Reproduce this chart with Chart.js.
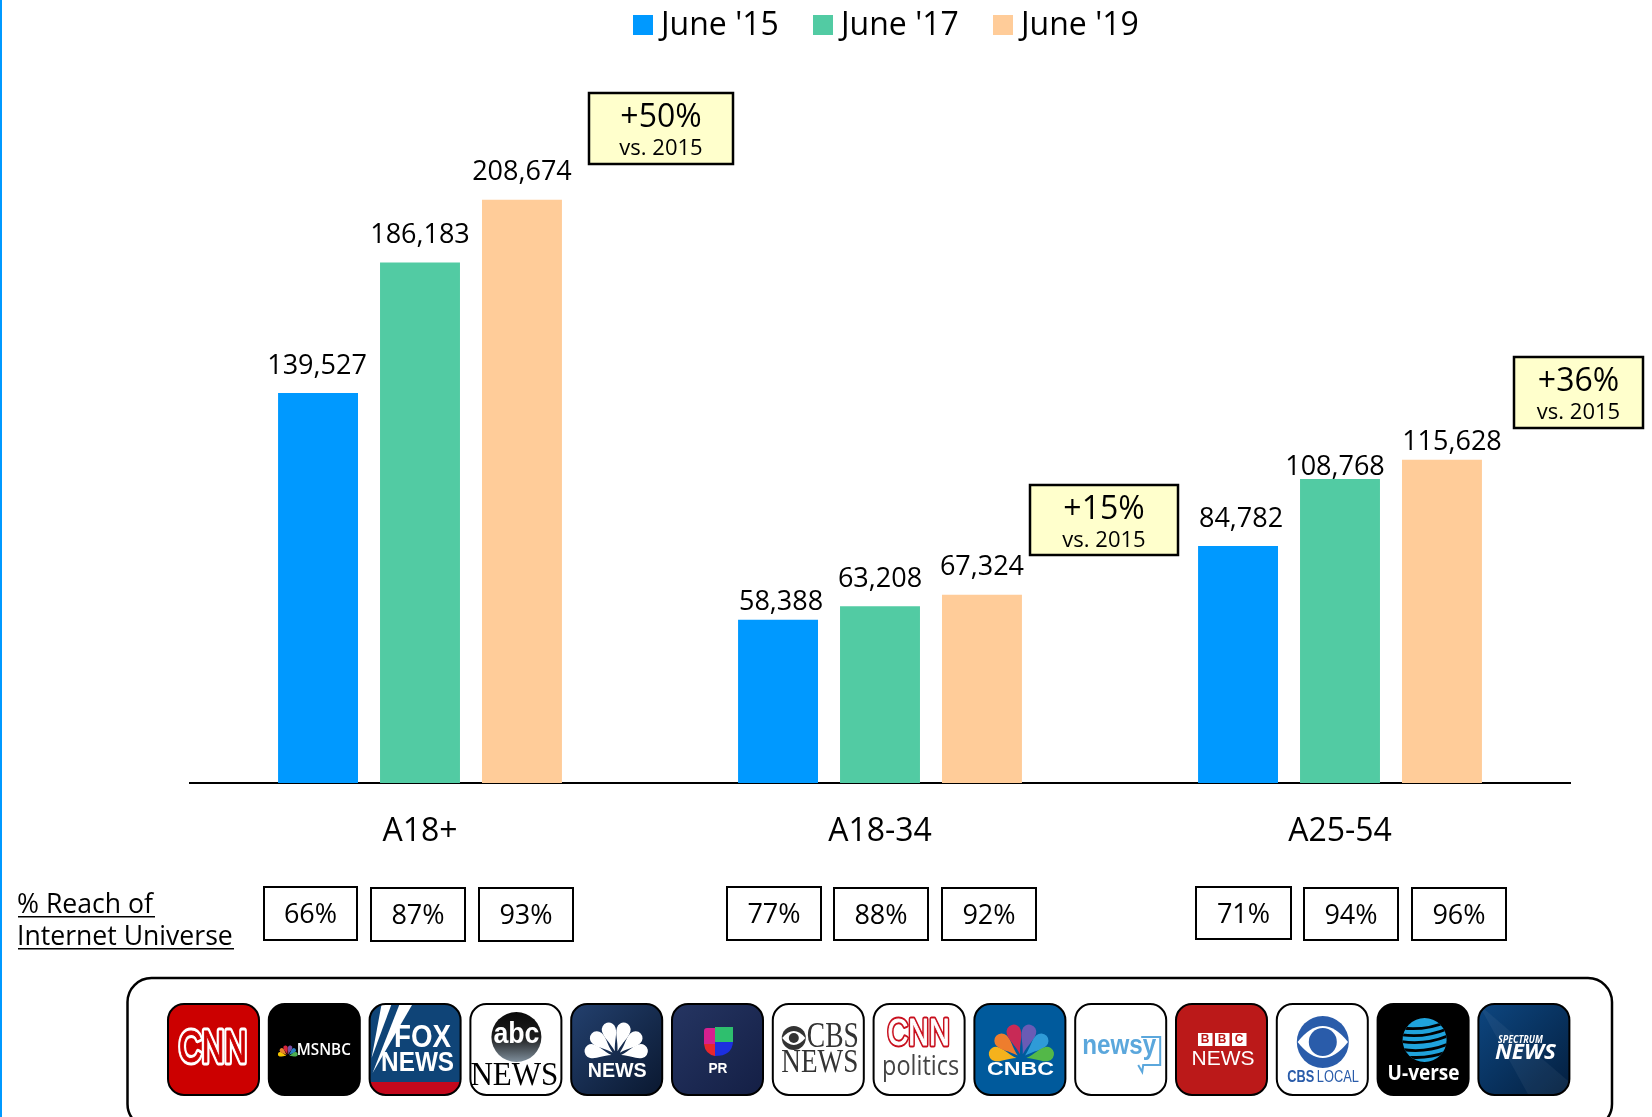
<!DOCTYPE html>
<html>
<head>
<meta charset="utf-8">
<title>Digital news reach</title>
<style>
html, body { margin: 0; padding: 0; background: #fff; overflow: hidden; }
canvas { display: block; }
</style>
<script src="https://cdn.jsdelivr.net/npm/chart.js@4"></script>
</head>
<body>
<canvas id="chart" width="1652" height="1117"></canvas>
<script>
const categories = ["A18+", "A18-34", "A25-54"];
const seriesNames = ["June '15", "June '17", "June '19"];
const june15 = [139527, 58388, 84782];
const june17 = [186183, 63208, 108768];
const june19 = [208674, 67324, 115628];
const reachLabels = ["66%", "87%", "93%", "77%", "88%", "92%", "71%", "94%", "96%"];
const changeLabels = ["+50%", "+15%", "+36%"];

const colors = ["#0099ff", "#52cba3", "#ffcc99"];
const FONT = '"Open Sans", sans-serif';
const SANS = '"Liberation Sans", sans-serif';
const SERIF = '"Liberation Serif", serif';

// hand placed things that sit around the bars
const labelNudge = [[[-1, 0], [3, 10], [3, 0]], [[0, 0], [0, 0], [-5, 15]], [[0, 0], [0, 0], [10, 10]]];
const reachBoxes = [
    [264, 887, 93, 53], [371, 888, 94, 53], [479, 888, 94, 53],
    [727, 887, 94, 53], [834, 888, 94, 52], [942, 888, 94, 52],
    [1196, 887, 95, 52], [1304, 888, 94, 52], [1412, 888, 94, 52],
];
const changeBoxes = [[589, 93, 144, 71], [1030, 485, 148, 70], [1514, 357, 129, 71]];

function txt(ctx, s, x, y, font, color, align) {
    ctx.font = font;
    ctx.fillStyle = color || "#000";
    ctx.textAlign = align || "center";
    ctx.textBaseline = "middle";
    ctx.fillText(s, x, y);
}

// logo lettering: squeeze the word to the width it has on the tile
function fit(ctx, s, cx, cy, w, font, color, outline, core) {
    ctx.save();
    ctx.font = font;
    ctx.textAlign = "center";
    ctx.textBaseline = "middle";
    ctx.translate(cx, cy);
    ctx.scale(w / ctx.measureText(s).width, 1);
    ctx.fillStyle = color;
    if (outline) {
        ctx.lineJoin = "round";
        ctx.strokeStyle = color;
        ctx.lineWidth = outline;
        ctx.strokeText(s, 0, 0);
        ctx.fillStyle = core;
        ctx.strokeStyle = core;
        ctx.lineWidth = 1;
        ctx.strokeText(s, 0, 0);
    }
    ctx.fillText(s, 0, 0);
    ctx.restore();
}

function peacock(ctx, cx, cy, len, spread, cols) {
    // teardrop feathers fanning out of one point
    cols.forEach((c, i) => {
        const t = cols.length > 1 ? i / (cols.length - 1) : 0.5;
        const a = -Math.PI / 2 + (t - 0.5) * spread;
        const l = len * (1 - 0.1 * Math.abs(t - 0.5) * 2);
        const w = len * 0.2;
        ctx.save();
        ctx.translate(cx, cy);
        ctx.rotate(a);
        ctx.fillStyle = c;
        ctx.beginPath();
        ctx.moveTo(len * 0.14, 0);
        ctx.bezierCurveTo(l * 0.45, -w * 0.35, l * 0.6, -w, l * 0.8, -w);
        ctx.arc(l * 0.8, 0, w, -Math.PI / 2, Math.PI / 2);
        ctx.bezierCurveTo(l * 0.6, w, l * 0.45, w * 0.35, len * 0.14, 0);
        ctx.fill();
        ctx.restore();
    });
}

function eye(ctx, cx, cy, r, rh, pupil, fg, bg) {
    ctx.fillStyle = fg;
    ctx.beginPath();
    ctx.arc(cx, cy, r, 0, Math.PI * 2);
    ctx.fill();
    ctx.fillStyle = bg;
    ctx.beginPath();
    ctx.moveTo(cx - r * 0.97, cy);
    ctx.quadraticCurveTo(cx, cy - rh * 2, cx + r * 0.97, cy);
    ctx.quadraticCurveTo(cx, cy + rh * 2, cx - r * 0.97, cy);
    ctx.fill();
    ctx.fillStyle = fg;
    ctx.beginPath();
    ctx.arc(cx, cy, pupil, 0, Math.PI * 2);
    ctx.fill();
}

function gradient(ctx, a, b) {
    const g = ctx.createLinearGradient(0, 0, 91, 91);
    g.addColorStop(0, a);
    g.addColorStop(1, b);
    return g;
}

function bg(ctx, c) {
    ctx.fillStyle = c;
    ctx.fillRect(0, 0, 91, 91);
}

const logos = [
    (ctx) => {
        bg(ctx, "#cc0000");
        fit(ctx, "CNN", 45, 46, 68, "44px " + SANS, "#fff", 7, "#cc0000");
    },
    (ctx) => {
        bg(ctx, "#000");
        peacock(ctx, 19, 52, 11, 2.7, ["#f5c400", "#e8842b", "#d8263c", "#7b4ea0", "#2a7fc1", "#4caf50"]);
        fit(ctx, "MSNBC", 55, 46, 54, "600 16px " + FONT, "#fff");
    },
    (ctx) => {
        bg(ctx, "#0f4477");
        ctx.fillStyle = "#c4081c";
        ctx.fillRect(0, 78, 91, 14);
        ctx.fillStyle = "#fff";
        ctx.beginPath(); ctx.moveTo(12, 0); ctx.lineTo(22, 0); ctx.lineTo(2, 54); ctx.closePath(); ctx.fill();
        ctx.beginPath(); ctx.moveTo(30, 0); ctx.lineTo(43, 0); ctx.lineTo(3, 69); ctx.closePath(); ctx.fill();
        fit(ctx, "FOX", 53, 34, 57, "bold 32px " + SANS, "#fff");
        fit(ctx, "NEWS", 48, 60, 73, "bold 27px " + SANS, "#fff");
    },
    (ctx) => {
        bg(ctx, "#fff");
        const g = ctx.createLinearGradient(0, 8, 0, 58);
        g.addColorStop(0, "#0a0a0a");
        g.addColorStop(0.5, "#1c1c1c");
        g.addColorStop(1, "#7f8f9c");
        ctx.fillStyle = g;
        ctx.beginPath(); ctx.arc(46, 33, 25, 0, Math.PI * 2); ctx.fill();
        fit(ctx, "abc", 46, 31, 46, "bold 29px " + SANS, "#fff");
        fit(ctx, "NEWS", 44, 72, 88, "33px " + SERIF, "#000");
    },
    (ctx) => {
        bg(ctx, gradient(ctx, "#23406e", "#0a1830"));
        peacock(ctx, 45, 52, 35, 2.75, ["#fff", "#fff", "#fff", "#fff", "#fff", "#fff"]);
        fit(ctx, "NEWS", 46, 67, 59, "bold 20px " + SANS, "#fff");
    },
    (ctx) => {
        bg(ctx, gradient(ctx, "#253562", "#141f45"));
        ctx.fillStyle = "#d6208f";
        ctx.beginPath(); ctx.roundRect(32, 24, 11, 16, [3, 0, 0, 0]); ctx.fill();
        ctx.fillStyle = "#2ebf6e";
        ctx.fillRect(43, 23, 18, 15);
        ctx.fillStyle = "#e8262c";
        ctx.beginPath(); ctx.moveTo(32, 40); ctx.lineTo(43, 40); ctx.lineTo(43, 52); ctx.quadraticCurveTo(33, 50, 32, 40); ctx.fill();
        ctx.fillStyle = "#1c2fe0";
        ctx.beginPath(); ctx.moveTo(43, 38); ctx.lineTo(61, 38); ctx.quadraticCurveTo(60, 52, 43, 52); ctx.fill();
        fit(ctx, "PR", 46, 65, 19, "bold 14px " + SANS, "#fff");
    },
    (ctx) => {
        bg(ctx, "#fff");
        eye(ctx, 21, 34, 12, 7, 5, "#333", "#fff");
        fit(ctx, "CBS", 60, 34, 52, "36px " + SERIF, "#333");
        fit(ctx, "NEWS", 47, 59, 77, "33px " + SERIF, "#333");
    },
    (ctx) => {
        bg(ctx, "#fff");
        fit(ctx, "CNN", 45, 31, 62, "37px " + SANS, "#c8101e", 5, "#fff");
        fit(ctx, "politics", 47, 63, 77, "27px " + FONT, "#444");
    },
    (ctx) => {
        bg(ctx, "#005a9c");
        peacock(ctx, 47, 55, 36, 2.75, ["#f5b21c", "#ee7d2d", "#c82a56", "#6a5bb5", "#2f9bd7", "#53b848"]);
        fit(ctx, "CNBC", 46, 66, 67, "bold 18px " + SANS, "#fff");
    },
    (ctx) => {
        bg(ctx, "#fff");
        ctx.strokeStyle = "#5ba7dc";
        ctx.lineWidth = 2;
        ctx.beginPath();
        ctx.moveTo(66, 33); ctx.lineTo(85, 33); ctx.lineTo(85, 61); ctx.lineTo(68, 61); ctx.lineTo(67, 68); ctx.lineTo(63, 61);
        ctx.stroke();
        fit(ctx, "newsy", 44, 43, 74, "bold 27px " + SANS, "#5ba7dc");
    },
    (ctx) => {
        bg(ctx, "#bb1919");
        ["B", "B", "C"].forEach((s, i) => {
            ctx.fillStyle = "#fff";
            ctx.fillRect(22 + i * 17, 29, 14.5, 13);
            txt(ctx, s, 29.2 + i * 17, 35.5, "bold 12px " + SANS, "#bb1919");
        });
        fit(ctx, "NEWS", 47, 55, 63, "21px " + SANS, "#fff");
    },
    (ctx) => {
        bg(ctx, "#fff");
        eye(ctx, 46, 38, 26, 16, 14, "#2a5caa", "#fff");
        fit(ctx, "CBS", 24, 74, 27, "bold 16px " + SANS, "#2a5caa");
        fit(ctx, "LOCAL", 61, 74, 42, "16px " + SANS, "#2a5caa");
    },
    (ctx) => {
        bg(ctx, "#000");
        ctx.save();
        ctx.beginPath(); ctx.arc(47, 36, 22, 0, Math.PI * 2); ctx.clip();
        ctx.fillStyle = "#1fa3dc";
        ctx.fillRect(20, 10, 54, 52);
        ctx.translate(47, 36);
        ctx.rotate(-0.12);
        ctx.strokeStyle = "#000";
        ctx.lineWidth = 2.8;
        [-16, -9, -2, 6, 13].forEach((y) => {
            ctx.beginPath();
            ctx.moveTo(-26, y);
            ctx.quadraticCurveTo(0, y + 8, 26, y);
            ctx.stroke();
        });
        ctx.restore();
        fit(ctx, "U-verse", 46, 70, 72, "bold 21px " + FONT, "#fff");
    },
    (ctx) => {
        bg(ctx, gradient(ctx, "#0d4680", "#041f3f"));
        ctx.fillStyle = "rgba(255,255,255,0.05)";
        ctx.beginPath(); ctx.moveTo(0, 0); ctx.lineTo(91, 78); ctx.lineTo(91, 91); ctx.lineTo(50, 91); ctx.closePath(); ctx.fill();
        fit(ctx, "SPECTRUM", 42, 36, 45, "italic bold 10px " + FONT, "#fff");
        fit(ctx, "NEWS", 47, 49, 61, "italic bold 21px " + FONT, "#fff");
    },
];

const extras = {
    id: "extras",
    afterDatasetsDraw(chart) {
        const ctx = chart.ctx;
        ctx.save();

        // value labels on top of the bars
        chart.data.datasets.forEach((ds, d) => {
            chart.getDatasetMeta(d).data.forEach((bar, i) => {
                const n = labelNudge[d][i];
                txt(ctx, ds.data[i].toLocaleString("en-US"), bar.x + n[0], bar.y - 27 + n[1], "500 27px " + FONT);
            });
        });

        // legend
        const legendX = [633, 813, 993];
        seriesNames.forEach((name, i) => {
            ctx.fillStyle = colors[i];
            ctx.fillRect(legendX[i], 15, 20, 20);
            txt(ctx, name, legendX[i] + 28, 26, "500 32px " + FONT, "#000", "left");
        });

        // +x% callouts
        changeBoxes.forEach((b, i) => {
            ctx.fillStyle = "#ffffcc";
            ctx.fillRect(b[0], b[1], b[2], b[3]);
            ctx.strokeStyle = "#000";
            ctx.lineWidth = 2.5;
            ctx.strokeRect(b[0], b[1], b[2], b[3]);
            txt(ctx, changeLabels[i], b[0] + b[2] / 2, b[1] + 25, "500 32px " + FONT);
            txt(ctx, "vs. 2015", b[0] + b[2] / 2, b[1] + 56, "500 22px " + FONT);
        });

        // reach row
        txt(ctx, "% Reach of", 17, 905, "500 26.6px " + FONT, "#000", "left");
        txt(ctx, "Internet Universe", 17, 937, "500 26.6px " + FONT, "#000", "left");
        ctx.fillStyle = "#000";
        ctx.fillRect(18, 916, 137, 1.5);
        ctx.fillRect(18, 948, 216, 1.5);
        reachBoxes.forEach((b, i) => {
            ctx.strokeStyle = "#000";
            ctx.lineWidth = 2;
            ctx.strokeRect(b[0], b[1], b[2], b[3]);
            txt(ctx, reachLabels[i], b[0] + b[2] / 2, b[1] + b[3] / 2 + 2, "500 27px " + FONT);
        });

        // network panel, runs off the bottom
        ctx.strokeStyle = "#000";
        ctx.lineWidth = 2.5;
        ctx.beginPath();
        ctx.roundRect(127.5, 978, 1484.5, 150, 24);
        ctx.stroke();
        logos.forEach((draw, i) => {
            ctx.save();
            ctx.translate(168 + i * 100.8, 1004);
            ctx.beginPath();
            ctx.roundRect(0, 0, 91, 91, 16);
            ctx.save();
            ctx.clip();
            draw(ctx);
            ctx.restore();
            ctx.beginPath();
            ctx.roundRect(0, 0, 91, 91, 16);
            ctx.strokeStyle = "#000";
            ctx.lineWidth = 2;
            ctx.stroke();
            ctx.restore();
        });

        // blue strip on the left edge
        ctx.fillStyle = "#0099ff";
        ctx.fillRect(0, 0, 2, 1117);
        ctx.restore();
    },
};

new Chart(document.getElementById("chart").getContext("2d"), {
    type: "bar",
    data: {
        labels: categories,
        datasets: [
            { label: seriesNames[0], data: june15, backgroundColor: colors[0] },
            { label: seriesNames[1], data: june17, backgroundColor: colors[1] },
            { label: seriesNames[2], data: june19, backgroundColor: colors[2] },
        ],
    },
    options: {
        responsive: false,
        animation: false,
        layout: { padding: { left: 190, right: 82, top: 83, bottom: 0 } },
        datasets: { bar: { categoryPercentage: 0.665, barPercentage: 0.784 } },
        plugins: {
            legend: { display: false },
            tooltip: { enabled: false },
        },
        scales: {
            x: {
                grid: { display: false, drawTicks: false },
                border: { color: "#000", width: 2 },
                ticks: { color: "#000", padding: 30, font: { family: "Open Sans", size: 32, weight: "500" } },
                afterFit(scale) { scale.height = 334; },
            },
            y: {
                display: false,
                min: 0,
                max: 250400,
            },
        },
    },
    plugins: [extras],
});
</script>
</body>
</html>
